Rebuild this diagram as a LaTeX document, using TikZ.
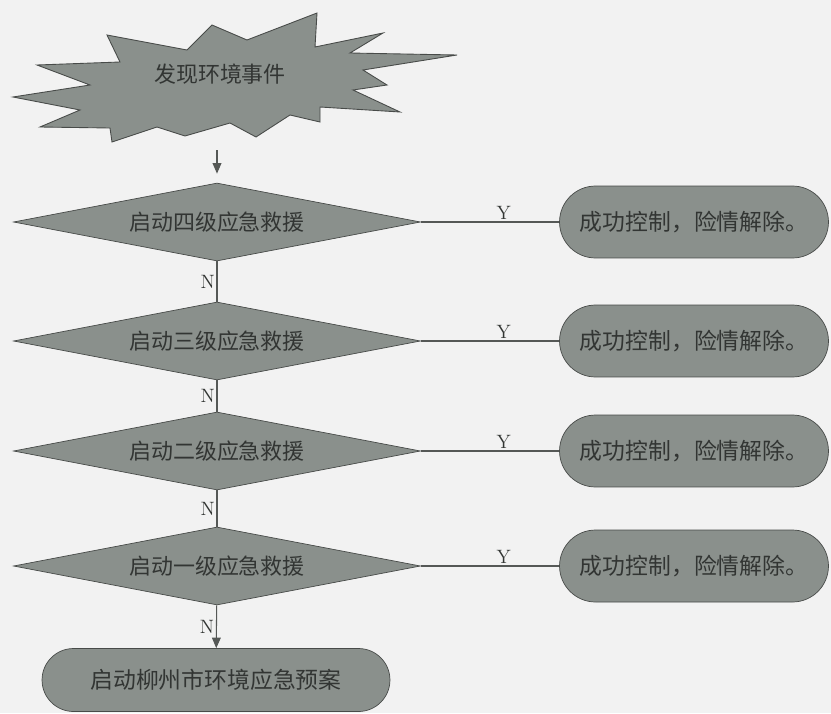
\documentclass[tikz,border=0pt]{standalone}
\usepackage{fontspec}
\newfontfamily\cjk{Noto Sans CJK SC}
\usetikzlibrary{shapes.geometric,shapes.misc,arrows.meta}

\definecolor{shapegray}{RGB}{138,144,140}
\definecolor{edgegray}{RGB}{72,75,73}
\definecolor{textgray}{RGB}{50,53,51}
\definecolor{linegray}{RGB}{85,88,86}

\tikzset{
  decision/.style={diamond,aspect=5.2,inner sep=0pt,minimum width=8.14cm,
    minimum height=1.56cm,fill=shapegray,draw=edgegray,text=textgray,
    font=\cjk\fontsize{12.5}{15}\selectfont},
  result/.style={rounded rectangle,inner sep=0pt,minimum width=5.38cm,
    minimum height=1.44cm,fill=shapegray,draw=edgegray,text=textgray,
    font=\cjk\fontsize{13}{15}\selectfont},
  yn/.style={inner sep=1pt,text=textgray,font=\fontsize{11}{13}\selectfont},
  flow/.style={draw=linegray,line width=0.6pt},
}

\begin{document}
\begin{tikzpicture}[x=0.02cm,y=-0.02cm]
  \useasboundingbox (0,0) rectangle (831,713);
  \fill[black!5] (0,0) rectangle (831,713);
  % burst around the first event
  \filldraw[fill=shapegray,draw=edgegray,line width=0.5pt]
    (13,97) -- (90,85) -- (37,65) -- (120,62) -- (107,35) -- (187,50)
    -- (212,25) -- (247,40) -- (317,13) -- (315,47) -- (383,33)
    -- (350,53) -- (457,55) -- (363,70) -- (387,85) -- (353,90)
    -- (400,112) -- (320,107) -- (320,122) -- (290,115) -- (256,137)
    -- (230,123) -- (185,136) -- (157,127) -- (112,142) -- (110,128)
    -- (40,127) -- (80,110) -- cycle;
  \node[text=textgray,font=\cjk\fontsize{12.5}{15}\selectfont]
    (event) at (220,74) {发现环境事件};
  \coordinate (evbot) at (217,150);

  % levels of response
  \node[decision] (lv4) at (217,222) {启动四级应急救援};
  \node[decision] (lv3) at (217,341) {启动三级应急救援};
  \node[decision] (lv2) at (217,451) {启动二级应急救援};
  \node[decision] (lv1) at (217,566) {启动一级应急救援};

  \node[result] (ok4) at (694,222) {成功控制，险情解除。};
  \node[result] (ok3) at (694,341) {成功控制，险情解除。};
  \node[result] (ok2) at (694,451) {成功控制，险情解除。};
  \node[result] (ok1) at (694,566) {成功控制，险情解除。};

  \node[result,minimum width=6.96cm,minimum height=1.26cm]
    (plan) at (216,680) {启动柳州市环境应急预案};

  % connectors
  \draw[flow,-{Triangle[width=5pt,length=6pt]},shorten >=0.18cm]
    (evbot) -- (lv4);
  \draw[flow] (lv4) -- node[left,yn]{N} (lv3);
  \draw[flow] (lv3) -- node[left,yn]{N} (lv2);
  \draw[flow] (lv2) -- node[left,yn]{N} (lv1);
  \draw[flow,-{Triangle[width=5pt,length=6pt]}]
    (lv1) -- node[left,yn]{N} (plan);

  \draw[flow] (lv4) -- node[above,yn,pos=0.6]{Y} (ok4);
  \draw[flow] (lv3) -- node[above,yn,pos=0.6]{Y} (ok3);
  \draw[flow] (lv2) -- node[above,yn,pos=0.6]{Y} (ok2);
  \draw[flow] (lv1) -- node[above,yn,pos=0.6]{Y} (ok1);
\end{tikzpicture}
\end{document}
